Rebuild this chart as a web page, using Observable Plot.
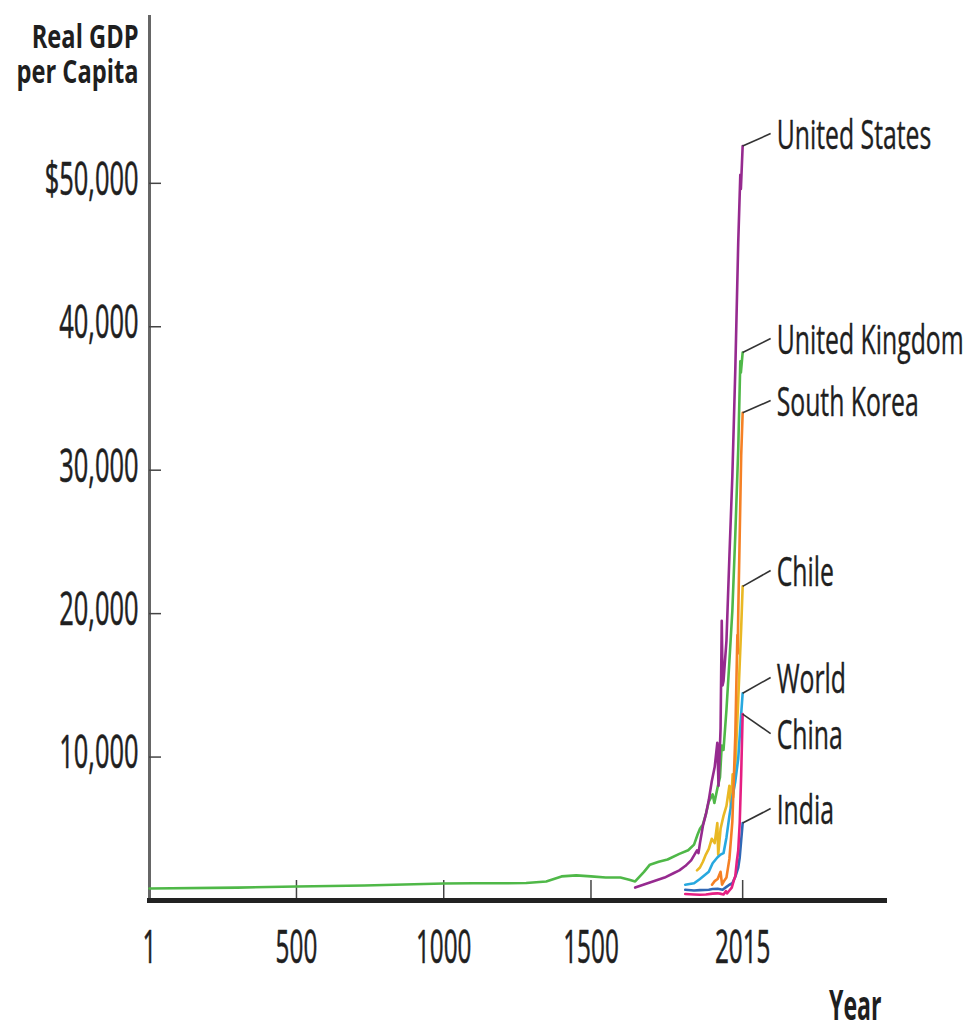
<!DOCTYPE html>
<html>
<head>
<meta charset="utf-8">
<script src="https://cdn.jsdelivr.net/npm/d3@7"></script>
<script src="https://cdn.jsdelivr.net/npm/@observablehq/plot@0.6"></script>
<style>
  body { margin: 0; background: #fff; }
</style>
</head>
<body>
<div id="chart"></div>
<script>
// Real GDP per capita (dollars), by year
const ukYears   = [1, 300, 500, 730, 1000, 1100, 1200, 1280, 1348, 1400, 1450, 1500, 1550, 1600, 1630, 1650, 1680, 1700, 1730, 1760, 1800, 1830, 1850, 1862, 1870, 1880, 1890, 1900, 1913, 1919, 1929, 1938, 1944, 1950, 1960, 1970, 1980, 1990, 2000, 2007, 2009, 2015];
const ukValues  = [840, 900, 980, 1050, 1190, 1200, 1200, 1220, 1330, 1680, 1750, 1680, 1600, 1600, 1450, 1330, 2000, 2500, 2700, 2860, 3250, 3500, 3900, 4600, 5000, 5300, 6000, 6900, 7400, 6800, 7800, 8600, 10800, 10500, 13300, 16700, 20200, 25500, 31500, 37600, 36800, 38200];

const usYears   = [1650, 1700, 1750, 1780, 1800, 1820, 1840, 1860, 1865, 1870, 1880, 1890, 1900, 1910, 1920, 1929, 1933, 1940, 1944, 1947, 1950, 1960, 1970, 1980, 1990, 2000, 2007, 2009, 2015];
const usValues  = [900, 1250, 1600, 1900, 2100, 2400, 2800, 3500, 3300, 4000, 5200, 6000, 7000, 8300, 9300, 11000, 8000, 12000, 19500, 15000, 15300, 18100, 24000, 29600, 37000, 45900, 50600, 49600, 52600];

const chileYears  = [1860, 1870, 1880, 1890, 1900, 1910, 1920, 1929, 1932, 1940, 1950, 1960, 1970, 1975, 1981, 1983, 1990, 2000, 2010, 2015];
const chileValues = [2100, 2300, 2700, 3200, 3600, 4300, 4000, 5400, 3200, 5000, 5900, 6600, 8000, 6500, 8800, 7200, 9300, 14000, 19000, 21900];

const koreaYears  = [1911, 1920, 1930, 1940, 1945, 1953, 1960, 1970, 1980, 1990, 1997, 1998, 2000, 2010, 2015];
const koreaValues = [1100, 1350, 1500, 2000, 1100, 1400, 1600, 2900, 5500, 11500, 18500, 17200, 20000, 31000, 34000];

const worldYears  = [1820, 1850, 1870, 1900, 1913, 1929, 1940, 1950, 1960, 1970, 1980, 1990, 2000, 2010, 2015];
const worldValues = [1100, 1200, 1500, 2000, 2600, 3000, 3200, 3300, 4400, 5900, 7200, 8300, 9900, 13000, 14450];

const indiaYears  = [1820, 1850, 1870, 1900, 1913, 1930, 1947, 1950, 1960, 1970, 1980, 1990, 2000, 2005, 2010, 2015];
const indiaValues = [750, 700, 720, 750, 800, 820, 750, 800, 950, 1100, 1200, 1650, 2300, 3000, 4200, 5400];

const chinaYears  = [1820, 1850, 1870, 1890, 1913, 1929, 1938, 1950, 1958, 1962, 1970, 1978, 1985, 1990, 1995, 2000, 2005, 2010, 2015];
const chinaValues = [450, 420, 400, 420, 480, 500, 480, 420, 650, 500, 700, 900, 1400, 1700, 2700, 3500, 5400, 8800, 13000];

// Series, in drawing order, with their colours
const seriesNames  = ["United Kingdom", "United States", "Chile", "World", "South Korea", "India", "China"];
const seriesColors = ["#4fb848", "#962a8f", "#e9b824", "#27a8df", "#f58025", "#3068b5", "#e51f82"];
const seriesYears  = [ukYears, usYears, chileYears, worldYears, koreaYears, indiaYears, chinaYears];
const seriesValues = [ukValues, usValues, chileValues, worldValues, koreaValues, indiaValues, chinaValues];

// Labels at the right end of each line: where each leader line points to
const labelNames  = ["United States", "United Kingdom", "South Korea", "Chile", "World", "China", "India"];
const labelValues = [53470, 39180, 34860, 23010, 15550, 11640, 6410];
const labelYear   = 2110;
const endYear     = 2015;

// Axis ticks and titles
const xTicks = [1, 500, 1000, 1500, 2015];
const xTickMarks = [500, 1000, 1500, 2015];
const yTicks = [10000, 20000, 30000, 40000, 50000];
const yTickLabels = ["10,000", "20,000", "30,000", "40,000", "$50,000"];
const yTitle = "Real GDP\nper Capita";
const xTitle = "Year";

const rows = seriesNames.flatMap((name, s) =>
  seriesYears[s].map((year, i) => ({name, year, value: seriesValues[s][i]}))
);

const endValue = name => {
  const s = seriesNames.indexOf(name);
  return seriesValues[s][seriesValues[s].length - 1];
};
const labels = labelNames.map((name, i) => ({
  name, end: endValue(name), labelValue: labelValues[i]
}));

const ink = "#1f1f1f";

const plot = Plot.plot({
  width: 970,
  height: 1030,
  marginLeft: 149,
  marginRight: 85,
  marginTop: 15,
  marginBottom: 130,
  x: {domain: [1, 2500], axis: null},
  y: {domain: [0, 61700], axis: null},
  color: {domain: seriesNames, range: seriesColors},
  style: {background: "#fff", fontFamily: "'Open Sans', sans-serif", color: ink},
  marks: [
    // vertical axis line
    Plot.ruleX([1], {stroke: "#666", strokeWidth: 3}),
    // inward tick marks
    Plot.ruleY(yTicks, {y: d => d, stroke: "#444", strokeWidth: 1.5, insetRight: 724}),
    Plot.ruleX(xTickMarks, {x: d => d, stroke: "#444", strokeWidth: 1.5, insetTop: 865}),
    // data lines
    Plot.line(rows, {x: "year", y: "value", z: "name", stroke: "name", strokeWidth: 2.6, strokeLinejoin: "round"}),
    // horizontal axis line
    Plot.ruleY([0], {stroke: "#222", strokeWidth: 5, insetLeft: -2, insetRight: -2}),
    // leader lines to the labels
    Plot.link(labels, {x1: () => endYear, y1: "end", x2: () => labelYear, y2: "labelValue", stroke: "#333", strokeWidth: 1.6}),
    // tick labels
    Plot.text(yTicks, {y: d => d, frameAnchor: "left", text: (d, i) => yTickLabels[i], textAnchor: "end", dx: -11, dy: -3, fontSize: 45, fill: ink, stroke: ink, strokeWidth: 0.6}),
    Plot.text(xTicks, {x: d => d, frameAnchor: "bottom", text: d => String(d), lineAnchor: "middle", dy: 48, fontSize: 45, fill: ink, stroke: ink, strokeWidth: 0.6}),
    // axis titles
    Plot.text([yTitle], {frameAnchor: "top-left", textAnchor: "end", lineAnchor: "top", dx: -11, dy: 7, fontSize: 32, lineHeight: 1.1, fontWeight: "bold", fill: ink}),
    Plot.text([xTitle], {frameAnchor: "bottom-right", textAnchor: "end", lineAnchor: "bottom", dx: -4, dy: 119, fontSize: 42, fontWeight: "bold", fill: ink}),
    // series labels
    Plot.text(labels, {x: () => labelYear, y: "labelValue", text: "name", textAnchor: "start", lineAnchor: "middle", dx: 6, dy: 3, fontSize: 40, fill: ink, stroke: ink, strokeWidth: 0.4})
  ]
});

document.getElementById("chart").appendChild(plot);

// Narrow the lettering horizontally about each text's anchor, one factor per text mark (in mark order)
const narrow = [0.565, 0.54, 0.74, 0.55, 0.62];
plot.querySelectorAll('g[aria-label="text"]').forEach((g, k) => {
  const s = narrow[k] ?? 1;
  g.querySelectorAll("text").forEach(t => {
    const box = t.getBBox();
    const anchor = getComputedStyle(t).textAnchor;
    const ax = anchor === "end" ? box.x + box.width
             : anchor === "middle" ? box.x + box.width / 2
             : box.x;
    const tr = t.getAttribute("transform") || "";
    t.setAttribute("transform", `${tr} translate(${ax},0) scale(${s},1) translate(${-ax},0)`.trim());
  });
});
</script>
</body>
</html>
